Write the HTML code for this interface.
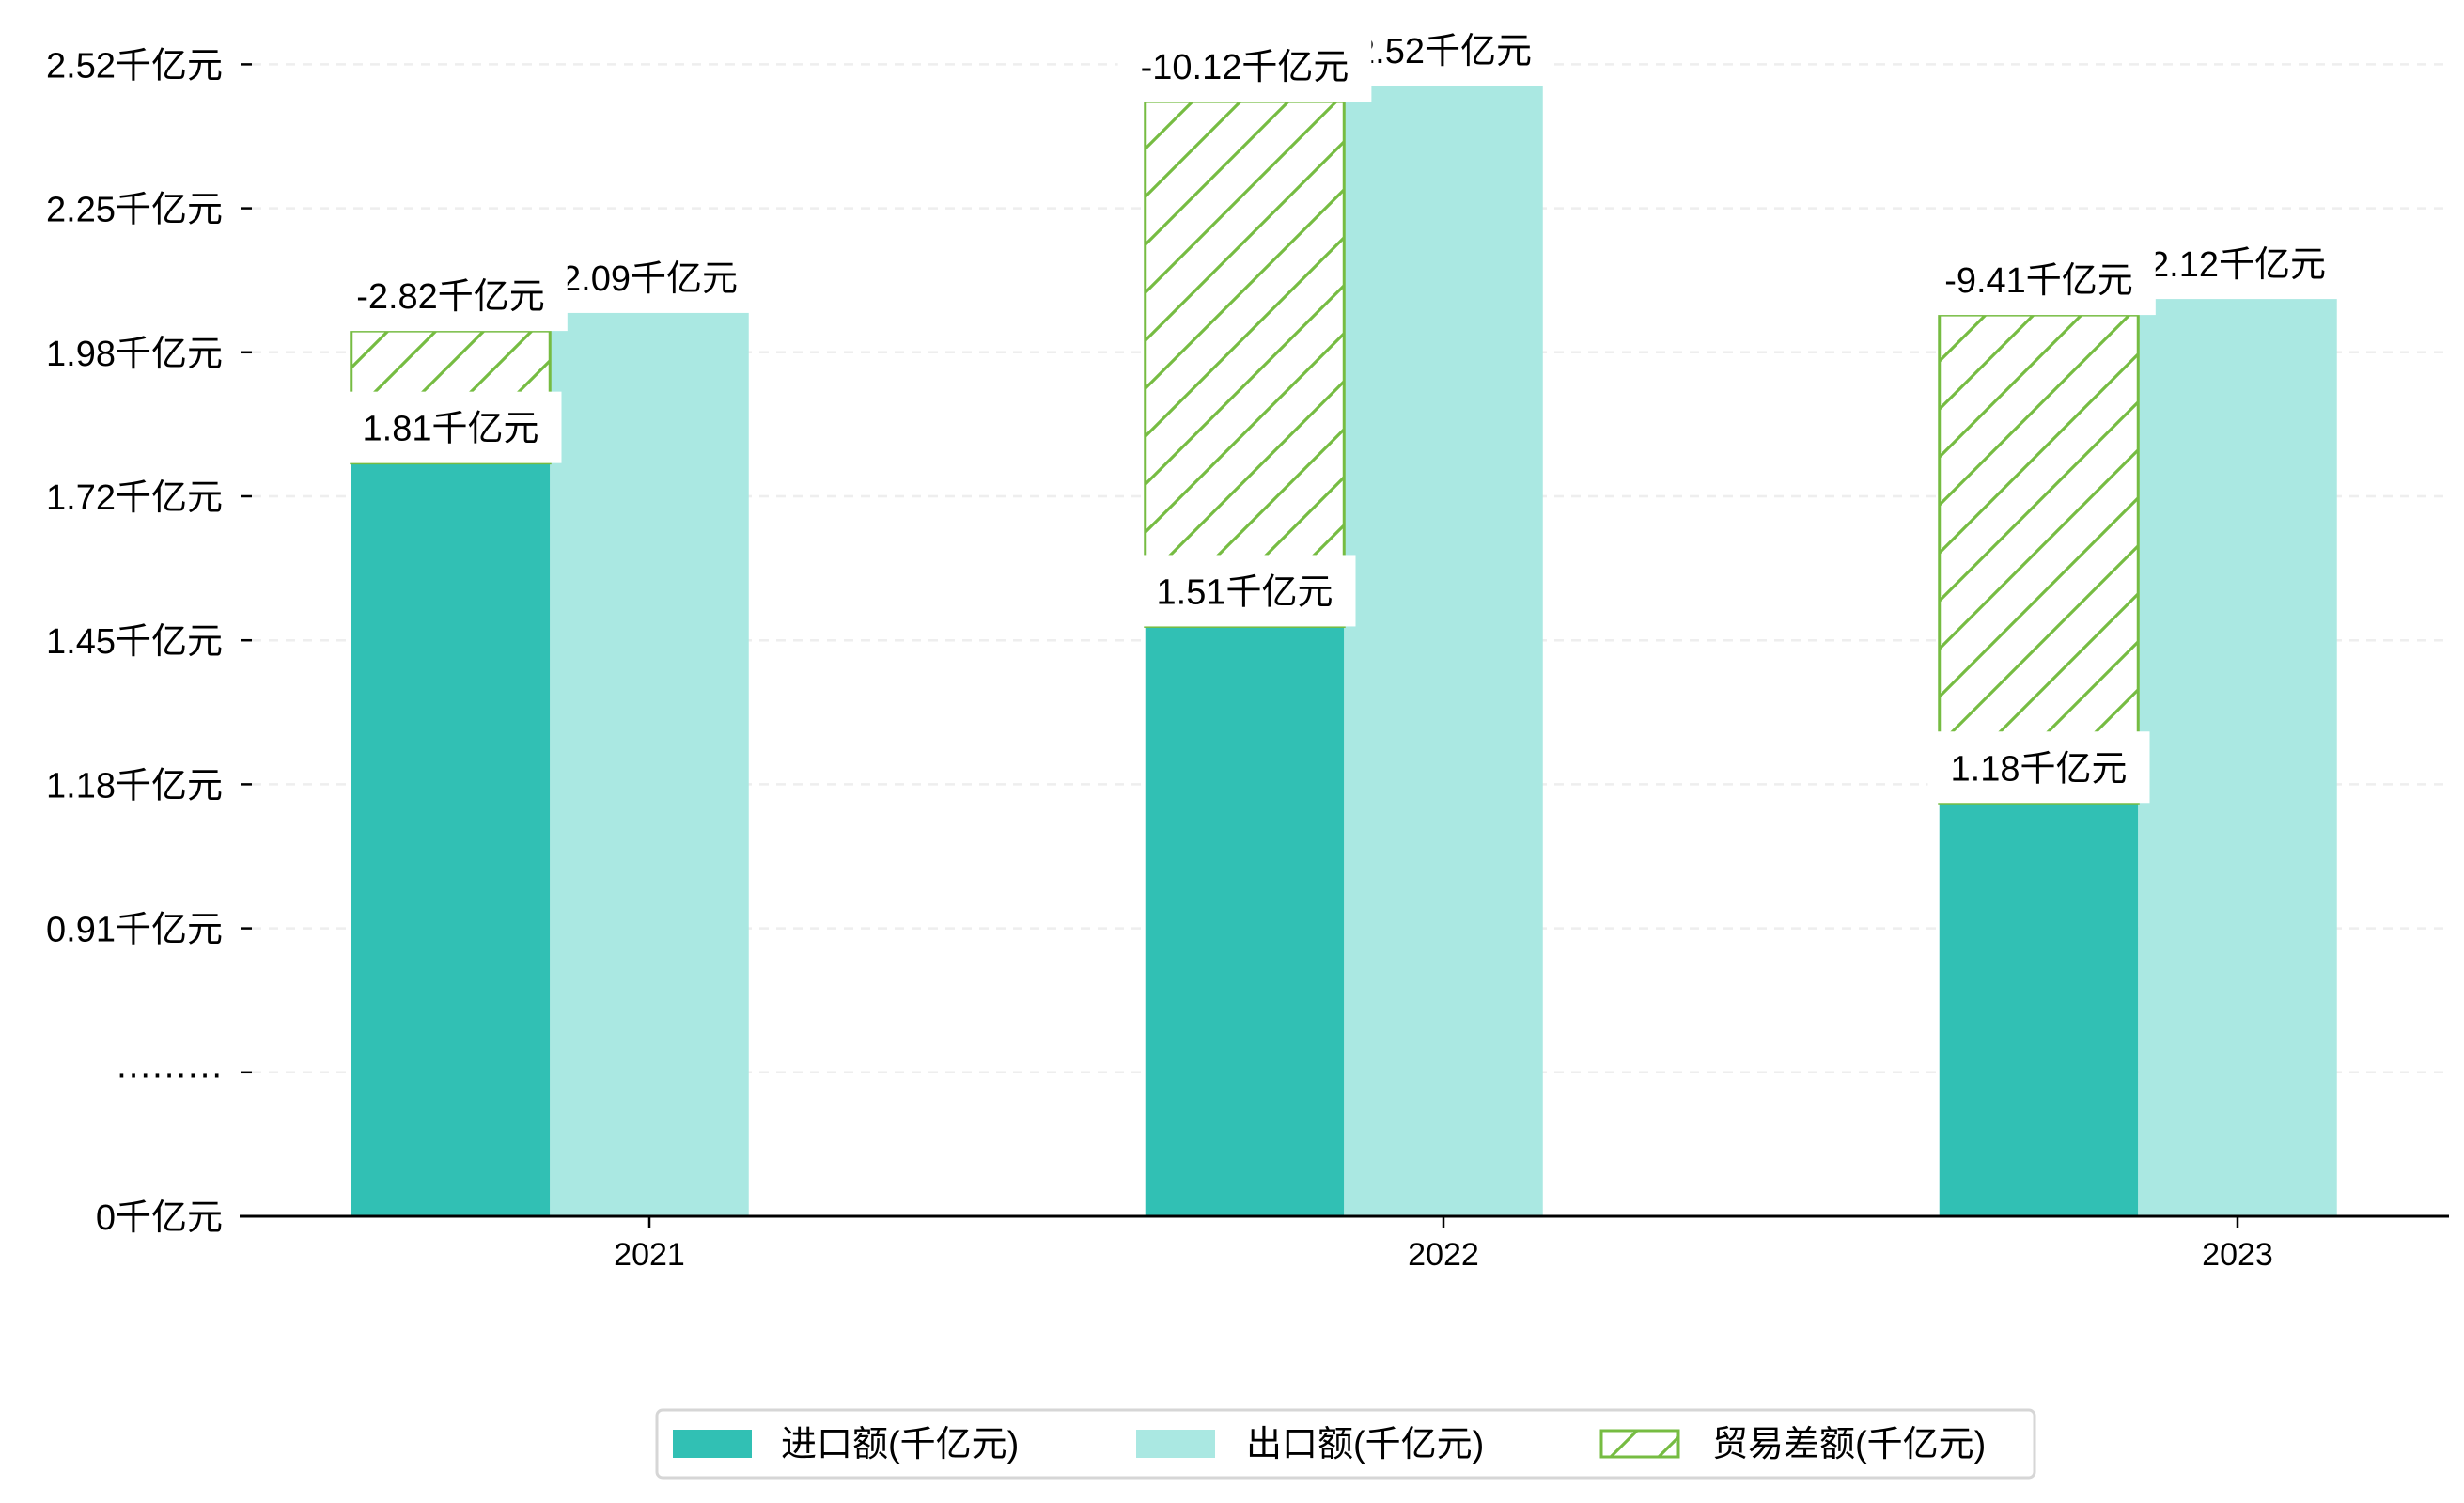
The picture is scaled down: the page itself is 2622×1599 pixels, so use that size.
<!DOCTYPE html>
<html><head><meta charset="utf-8"><style>
html,body{margin:0;padding:0;background:#fff;}
svg{display:block;font-family:"Liberation Sans","Noto Sans CJK SC",sans-serif;}
</style></head><body>
<svg id="chart" width="2622" height="1599" viewBox="0 0 2622 1599" xmlns="http://www.w3.org/2000/svg">
<defs>
<pattern id="hatch" patternUnits="userSpaceOnUse" width="51" height="51">
<rect width="51" height="51" fill="#fff"/>
<path d="M-13,13 L13,-13 M0,51 L51,0 M38,64 L64,38" stroke="#76bc42" stroke-width="3.2"/>
</pattern>
</defs>
<g id="grid"></g>
<g id="bars"></g>
<g id="labels"></g>
<g id="axes"></g>
<g id="legend">
<rect x="699" y="1500" width="1466" height="72" rx="6" fill="#fff" stroke="#d6d6d6" stroke-width="3"/>
<rect x="716" y="1521" width="84" height="30" fill="#31c0b4"/>
<text x="831" y="1549" font-size="38">进口额(千亿元)</text>
<rect x="1209" y="1521" width="84" height="30" fill="#aae8e2"/>
<text x="1326" y="1549" font-size="38">出口额(千亿元)</text>
<rect x="1704" y="1522" width="82" height="28" fill="url(#hatch)" stroke="#76bc42" stroke-width="3"/>
<text x="1822" y="1549" font-size="38">贸易差额(千亿元)</text>
</g>
</svg>
<script>
const categories = ["2021","2022","2023"];
const importVals = [1.78, 1.476, 1.145];
const exportVals = [2.054, 2.48, 2.08];
const balanceTop = [2.02, 2.45, 2.05];
const importLabels = ["1.81千亿元","1.51千亿元","1.18千亿元"];
const exportLabels = ["2.09千亿元","2.52千亿元","2.12千亿元"];
const balanceLabels = ["-2.82千亿元","-10.12千亿元","-9.41千亿元"];
const tickVals = [0, 0.64, 0.91, 1.18, 1.45, 1.72, 1.98, 2.25, 2.52];
const tickLabels = ["0千亿元","·········","0.91千亿元","1.18千亿元","1.45千亿元","1.72千亿元","1.98千亿元","2.25千亿元","2.52千亿元"];

const NS="http://www.w3.org/2000/svg";
const y0=1294, step=153.2, xL=255, xR=2606;
const groupX0=691, groupStep=845, barW=211.5;
function tickY(i){return y0 - i*step;}
function yScale(v){
  for(let i=0;i<tickVals.length-1;i++){
    if(v<=tickVals[i+1]||i===tickVals.length-2){
      const a=tickVals[i],b=tickVals[i+1];
      return tickY(i)+(v-a)/(b-a)*(tickY(i+1)-tickY(i));
    }
  }
}
function xCenter(i){return groupX0+i*groupStep;}
function mk(tag,attrs,parent){const e=document.createElementNS(NS,tag);for(const k in attrs)e.setAttribute(k,attrs[k]);parent.appendChild(e);return e;}

const grid=document.getElementById('grid'),bars=document.getElementById('bars'),labels=document.getElementById('labels'),axes=document.getElementById('axes');

tickVals.forEach((v,i)=>{
  const y=tickY(i);
  if(i>0){const g=mk('line',{x1:268,x2:xR,y1:y,y2:y,stroke:'#eeeeee','stroke-width':2.5,'stroke-dasharray':'10,8'},grid);
  
  }
  const t=mk('line',{x1:256,x2:268,y1:y,y2:y,stroke:'#000','stroke-width':2.5},axes);
  
  
  const tx=mk('text',{x:237,y:y+14,'font-size':38,'text-anchor':'end'},axes);
  tx.textContent=tickLabels[i];
  
  
});

function labelBox(cx,bottom,text,name){
  const g=mk('g',{},labels);
  
  
  const r=mk('rect',{fill:'#fff'},g);
  const t=mk('text',{x:cx,y:bottom-24,'font-size':38,'text-anchor':'middle'},g);
  t.textContent=text;
  const w=t.getComputedTextLength();
  r.setAttribute('x',cx-w/2-24);r.setAttribute('y',bottom-76);
  r.setAttribute('width',w+48);r.setAttribute('height',76);
}

categories.forEach((c,i)=>{
  const cx=xCenter(i);
  const ix=cx-barW*1.5, ex=cx-barW/2;
  const yi=yScale(importVals[i]), ye=yScale(exportVals[i]), yb=yScale(balanceTop[i]);
  const b1=mk('rect',{x:ix,y:yi,width:barW,height:y0-yi,fill:'#31c0b4'},bars);
  
  
  const b2=mk('rect',{x:ex,y:ye,width:barW,height:y0-ye,fill:'#aae8e2'},bars);
  
  
  const b3=mk('rect',{x:ix,y:yb,width:barW,height:yi-yb,fill:'url(#hatch)',stroke:'#76bc42','stroke-width':3},bars);
  
  
  const xt=mk('line',{x1:cx,x2:cx,y1:y0,y2:y0+12,stroke:'#000','stroke-width':2.5},axes);
  
  
  const xl=mk('text',{x:cx,y:y0+52,'font-size':34,'text-anchor':'middle'},axes);
  xl.textContent=c;
  
  
});
categories.forEach((c,i)=>{
  const cx=xCenter(i);
  labelBox(cx-barW*1.5+barW/2,yScale(importVals[i]),importLabels[i],'import-label-'+c);
  labelBox(cx,yScale(exportVals[i]),exportLabels[i],'export-label-'+c);
  labelBox(cx-barW,yScale(balanceTop[i]),balanceLabels[i],'balance-label-'+c);
});
const ax=mk('line',{x1:xL,x2:xR,y1:y0,y2:y0,stroke:'#000','stroke-width':3},axes);


</script>
</body></html>
